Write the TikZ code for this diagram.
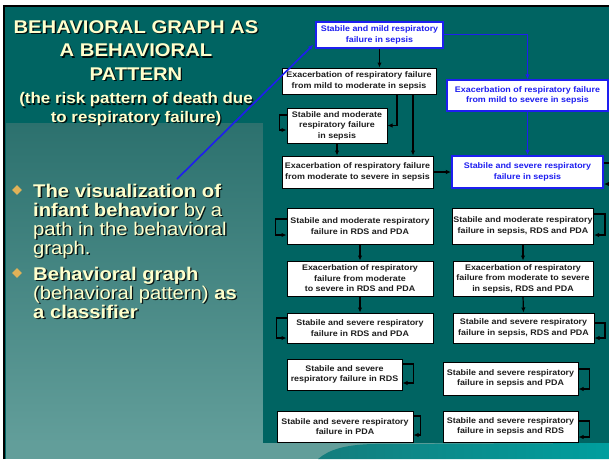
\documentclass[tikz,border=0pt]{standalone}
\usepackage{fontspec}
\setmainfont[FakeStretch=1.1]{Liberation Sans}
\usetikzlibrary{arrows.meta,shapes.geometric}

\definecolor{slideteal}{RGB}{0,100,98}
\definecolor{leftTop}{RGB}{44,113,110}
\definecolor{leftBottom}{RGB}{98,158,154}
\definecolor{cream}{RGB}{255,255,204}
\definecolor{bulletgold}{RGB}{224,178,88}
\definecolor{linkblue}{RGB}{30,30,240}
\definecolor{boxtext}{RGB}{30,30,30}
\definecolor{waveDark}{RGB}{20,125,125}
\definecolor{waveBright}{RGB}{0,158,158}

\newcommand\titletext{BEHAVIORAL GRAPH AS\\A BEHAVIORAL\\PATTERN}
\newcommand\risktext{(the risk pattern of death due\\to respiratory failure)}
\newcommand\firstpoint{\textbf{The visualization of}\\\textbf{infant behavior} by a\\path in the behavioral\\graph.}
\newcommand\secondpoint{\textbf{Behavioral graph}\\(behavioral pattern) \textbf{as}\\\textbf{a classifier}}

\begin{document}
\begin{tikzpicture}[x=1pt,y=-1pt,
  state/.style={draw=black, fill=white, line width=1pt, inner sep=1pt,
    align=center, text=boxtext, font=\fontsize{8.1}{10.5}\selectfont\bfseries},
  bluestate/.style={state, draw=linkblue, text=linkblue, line width=1.5pt},
  link/.style={draw=black, -{Latex[length=5pt,width=4.5pt]}, line width=1.2pt},
  bluelink/.style={link, draw=linkblue, line width=1.6pt},
  heading/.style={text=cream, align=center, inner sep=0pt,
    font=\fontsize{18.4}{23.5}\selectfont\bfseries},
  subheading/.style={heading, font=\fontsize{15.4}{18.5}\selectfont\bfseries},
  point/.style={text=cream, align=left, inner sep=0pt, anchor=north west,
    font=\fontsize{18.4}{19}\selectfont},
  dropshadow/.style={text=black, opacity=0.85},
  bullet/.style={diamond, fill=bulletgold, inner sep=0pt, minimum size=10pt}
]
  \useasboundingbox (0,0) rectangle (609,459);

  % slide background
  \fill[white] (0,0) rectangle (609,459);
  \fill[slideteal] (3,5) rectangle (609,459);
  \shade[top color=leftTop, bottom color=leftBottom] (6,123) rectangle (263,443);
  \fill[leftBottom] (6,443) rectangle (609,459);
  \shade[left color=waveDark, right color=waveBright]
    (318,459) .. controls (330,449) and (345,445) .. (372,444)
    -- (609,443) -- (609,459) -- cycle;
  \draw[black, line width=2pt] (4,459) -- (4,6) -- (609,6);

  % title
  \node[heading, dropshadow] (titleshadow) at (137.3,51.8) {\titletext};
  \node[heading] (title) at (136,50.5) {\titletext};
  \node[subheading, dropshadow] (riskshadow) at (137.3,110.3) {\risktext};
  \node[subheading] (risk) at (136,109) {\risktext};

  % bullet points
  \node[bullet] (dot1) at (17,190) {};
  \node[point, dropshadow] at (34.3,184.9) {\firstpoint};
  \node[point] (point1) at (33,183.6) {\firstpoint};
  \node[bullet] (dot2) at (17,273) {};
  \node[point, dropshadow] at (34.3,267.9) {\secondpoint};
  \node[point] (point2) at (33,266.6) {\secondpoint};
  \coordinate (cue) at (177,179);

  % diagram area
  \fill[slideteal] (263,7) rectangle (609,443);

  % sepsis states
  \node[bluestate, minimum width=127pt, minimum height=26pt] (sepsMild) at (379.5,35)
    {Stabile and mild respiratory\\failure in sepsis};
  \node[state, minimum width=154pt, minimum height=26pt] (exMildMod) at (359,81)
    {Exacerbation of respiratory failure\\from mild to moderate in sepsis};
  \node[bluestate, minimum width=161pt, minimum height=31pt] (exMildSev) at (527.5,95.5)
    {Exacerbation of respiratory failure\\from mild to severe in sepsis};
  \node[state, minimum width=100pt, minimum height=35pt] (sepsMod) at (337,125.5)
    {Stabile and moderate\\respiratory failure\\in sepsis};
  \node[state, minimum width=151pt, minimum height=32pt] (exModSev) at (357.5,172)
    {Exacerbation of respiratory failure\\from moderate to severe in sepsis};
  \node[bluestate, line width=2.2pt, minimum width=151pt, minimum height=32pt] (sepsSev) at (527.5,172)
    {Stabile and severe respiratory\\failure in sepsis};

  % RDS / PDA states
  \node[state, minimum width=146pt, minimum height=36pt] (rpMod) at (360,226)
    {Stabile and moderate respiratory\\failure in RDS and PDA};
  \node[state, minimum width=140pt, minimum height=36pt] (srpMod) at (523,226)
    {Stabile and moderate respiratory\\failure in sepsis, RDS and PDA};
  \node[state, minimum width=146pt, minimum height=35pt] (rpEx) at (360,278.5)
    {Exacerbation of respiratory\\failure from moderate\\to severe in RDS and PDA};
  \node[state, minimum width=140pt, minimum height=35pt] (srpEx) at (523,278.5)
    {Exacerbation of respiratory\\failure from moderate to severe\\in sepsis, RDS and PDA};
  \node[state, minimum width=146pt, minimum height=30pt] (rpSev) at (360,328)
    {Stabile and severe respiratory\\failure in RDS and PDA};
  \node[state, minimum width=141pt, minimum height=30pt] (srpSev) at (523.5,328)
    {Stabile and severe respiratory\\failure in sepsis, RDS and PDA};
  \node[state, minimum width=115pt, minimum height=31pt] (rdsSev) at (344.5,374.5)
    {Stabile and severe\\respiratory failure in RDS};
  \node[state, minimum width=135pt, minimum height=33pt] (spSev) at (510.5,378.5)
    {Stabile and severe respiratory\\failure in sepsis and PDA};
  \node[state, minimum width=136pt, minimum height=31pt] (pdaSev) at (345,426.5)
    {Stabile and severe respiratory\\failure in PDA};
  \node[state, minimum width=135pt, minimum height=31pt] (srSev) at (510.5,426.5)
    {Stabile and severe respiratory\\failure in sepsis and RDS};

  % transitions
  \draw[bluelink] (cue) -- ([xshift=-2pt,yshift=4pt]sepsMild.south west);
  \draw[link] (sepsMild.south) -- (sepsMild.south |- exMildMod.north);
  \draw[bluelink] ([yshift=0.5pt]sepsMild.east) -| (exMildSev.north);
  \draw[link] ([xshift=38pt]exMildMod.south) |- (sepsMod.east);
  \draw[link] ([xshift=54pt]exMildMod.south) -- ([xshift=55.5pt]exModSev.north);
  \draw[link] (sepsMod.south) -- (sepsMod.south |- exModSev.north);
  \draw[link] (exModSev.east) -- (sepsSev.west);
  \draw[bluelink] (exMildSev.south) -- (sepsSev.north);
  \draw[link] (rpMod.south) -- (rpEx.north);
  \draw[link] (srpMod.south) -- (srpEx.north);
  \draw[link] (rpEx.south) -- (rpSev.north);
  \draw[link] (srpEx.south) -- (srpSev.north);

  % staying in a state
  \draw[link] ([yshift=10.5pt]sepsMod.west) -- ++(-7,0) |- ([yshift=-4.5pt]sepsMod.west);
  \draw[link] ([yshift=9pt]sepsSev.east) -- ++(6,0) |- ([yshift=-12pt]sepsSev.east);
  \draw[link] ([yshift=7pt]rpMod.west) -- ++(-11,0) |- ([yshift=-9pt]rpMod.west);
  \draw[link] ([yshift=12pt]srpMod.east) -- ++(11,0) |- ([yshift=-9pt]srpMod.east);
  \draw[link] ([yshift=10pt]rpSev.west) -- ++(-10,0) |- ([yshift=-10pt]rpSev.west);
  \draw[link] ([yshift=5pt]srpSev.east) -- ++(10.5,0) |- ([yshift=-10pt]srpSev.east);
  \draw[link] ([yshift=10.5pt]rdsSev.east) -- ++(11,0) |- ([yshift=-8.5pt]rdsSev.east);
  \draw[link] ([yshift=9.5pt]spSev.east) -- ++(11,0) |- ([yshift=-10.5pt]spSev.east);
  \draw[link] ([yshift=10.5pt]pdaSev.east) -- ++(7,0) |- ([yshift=-8.5pt]pdaSev.east);
  \draw[link] ([yshift=5.5pt]srSev.east) -- ++(11,0) |- ([yshift=-10.5pt]srSev.east);
\end{tikzpicture}
\end{document}
